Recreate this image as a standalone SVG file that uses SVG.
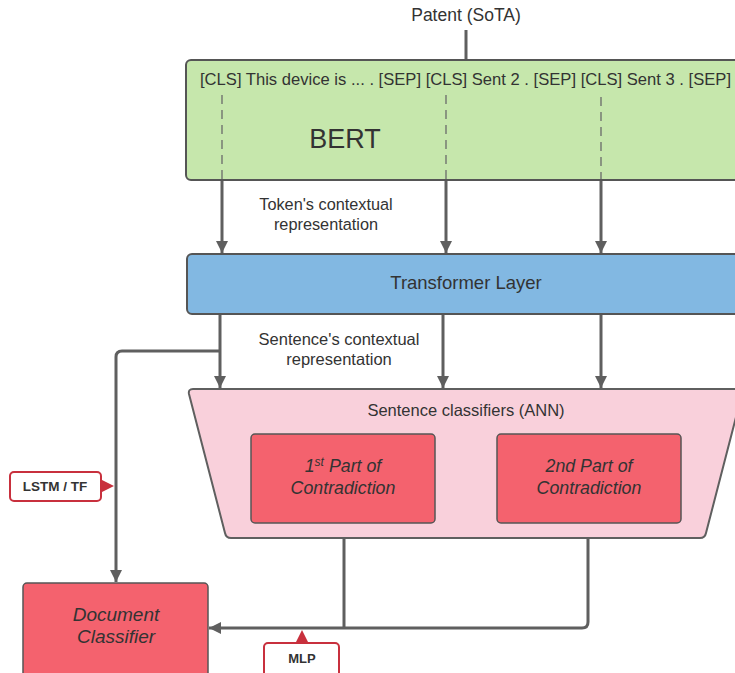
<svg xmlns="http://www.w3.org/2000/svg" width="735" height="673" viewBox="0 0 735 673">
<defs>
<style>
.t{font-family:"Liberation Sans",Arial,sans-serif;fill:#333;}
.ln{fill:none;stroke:#5f5f5f;stroke-width:3;}
.dash{fill:none;stroke:#6a6a6a;stroke-width:1.3;stroke-dasharray:9 6;}
.box{stroke:#555;stroke-width:2;}
.red{fill:#f4626e;stroke:#555;stroke-width:1.5;}
.call{fill:#fff;stroke:#c8303d;stroke-width:2;}
.ptr{fill:#c8303d;}
</style>
<marker id="ah" viewBox="0 0 10 10" refX="10" refY="5" markerWidth="4" markerHeight="4" orient="auto" markerUnits="strokeWidth">
<path d="M0,0 L10,5 L0,10 z" fill="#5f5f5f"/>
</marker>
</defs>
<rect width="735" height="673" fill="#fff"/>

<g id="connectors">
<line class="ln" x1="466" y1="30" x2="466" y2="60"/>
<line class="ln" x1="222" y1="180" x2="222" y2="253" marker-end="url(#ah)"/>
<line class="ln" x1="446" y1="180" x2="446" y2="253" marker-end="url(#ah)"/>
<line class="ln" x1="601" y1="180" x2="601" y2="253" marker-end="url(#ah)"/>
<line class="ln" x1="220" y1="314" x2="220" y2="388" marker-end="url(#ah)"/>
<line class="ln" x1="443" y1="314" x2="443" y2="388" marker-end="url(#ah)"/>
<line class="ln" x1="601" y1="314" x2="601" y2="388" marker-end="url(#ah)"/>
<path class="ln" d="M220,351 H122 Q116,351 116,357 V582" marker-end="url(#ah)"/>
<path class="ln" d="M344,523 V628"/>
<path class="ln" d="M588,523 V622 Q588,628 582,628 H209" marker-end="url(#ah)"/>
</g>

<g id="patent">
<text class="t" x="466" y="21" font-size="17.5" text-anchor="middle">Patent (SoTA)</text>
</g>

<g id="bert">
<rect class="box" x="186" y="60" width="560" height="120" rx="5" fill="#c6e7ac"/>
<text class="t" x="200" y="85" font-size="16.5" textLength="531" lengthAdjust="spacingAndGlyphs">[CLS] This device is ... . [SEP] [CLS] Sent 2 . [SEP] [CLS] Sent 3 . [SEP]</text>
<line class="dash" x1="222" y1="95" x2="222" y2="179"/>
<line class="dash" x1="446" y1="95" x2="446" y2="179"/>
<line class="dash" x1="601" y1="97" x2="601" y2="179"/>
<text class="t" x="345" y="148" font-size="27" text-anchor="middle">BERT</text>
</g>

<g id="token-label">
<text class="t" x="326" y="210" font-size="16.3" text-anchor="middle">Token's contextual</text>
<text class="t" x="326" y="230" font-size="16.3" text-anchor="middle">representation</text>
</g>

<g id="transformer">
<rect class="box" x="187" y="254" width="560" height="60" rx="5" fill="#82b8e2"/>
<text class="t" x="466" y="289" font-size="18.5" text-anchor="middle">Transformer Layer</text>
</g>

<g id="sentence-label">
<text class="t" x="339" y="345" font-size="16.5" text-anchor="middle">Sentence's contextual</text>
<text class="t" x="339" y="365" font-size="16.5" text-anchor="middle">representation</text>
</g>

<g id="sentence-classifiers">
<path d="M193,389 H738 Q743,389 742,394 L706,533 Q705,538 700,538 H231 Q226,538 225,533 L189,394 Q188,389 193,389 Z" fill="#f9d0db" stroke="#5f5f5f" stroke-width="2"/>
<text class="t" x="466" y="416" font-size="16.5" text-anchor="middle">Sentence classifiers (ANN)</text>
</g>

<g id="part1">
<rect class="red" x="251" y="434" width="184" height="89" rx="4"/>
<text class="t" x="343" y="472" font-size="17.8" font-style="italic" text-anchor="middle">1<tspan font-size="12" dy="-6">st</tspan><tspan dy="6"> Part of</tspan></text>
<text class="t" x="343" y="494" font-size="17.8" font-style="italic" text-anchor="middle">Contradiction</text>
</g>

<g id="part2">
<rect class="red" x="497" y="434" width="184" height="89" rx="4"/>
<text class="t" x="589" y="472" font-size="17.8" font-style="italic" text-anchor="middle">2nd Part of</text>
<text class="t" x="589" y="494" font-size="17.8" font-style="italic" text-anchor="middle">Contradiction</text>
</g>

<g id="document-classifier">
<rect class="red" x="23" y="583" width="185" height="95" rx="4"/>
<text class="t" x="116" y="621" font-size="19" font-style="italic" text-anchor="middle">Document</text>
<text class="t" x="116" y="643" font-size="19" font-style="italic" text-anchor="middle">Classifier</text>
</g>

<g id="lstm-callout">
<path class="ptr" d="M100,479 L114,486 L100,493 Z"/>
<rect class="call" x="10" y="472" width="91" height="29" rx="4"/>
<text class="t" x="55" y="491" font-size="13.5" font-weight="bold" text-anchor="middle">LSTM / TF</text>
</g>

<g id="mlp-callout">
<path class="ptr" d="M295,644 L302,630 L309,644 Z"/>
<rect class="call" x="264" y="643" width="75" height="34" rx="4"/>
<text class="t" x="302" y="663" font-size="13" font-weight="bold" text-anchor="middle">MLP</text>
</g>
</svg>
